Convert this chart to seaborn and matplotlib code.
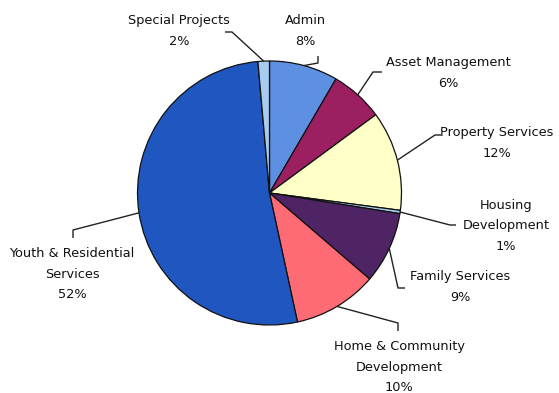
import matplotlib
matplotlib.use("Agg")
import matplotlib.pyplot as plt
import seaborn as sns
import numpy as np

# ---- data ----
categories = ["Admin", "Asset Management", "Property Services", "Housing\nDevelopment",
              "Family Services", "Home & Community\nDevelopment",
              "Youth & Residential\nServices", "Special Projects"]
shares = [8.4, 6.5, 12.2, 0.4, 8.8, 10.3, 52.0, 1.4]
pct_labels = ["8%", "6%", "12%", "1%", "9%", "10%", "52%", "2%"]
colors = ["#5E90E2", "#9C1F62", "#FFFFC8", "#A8CCEE", "#4E2464", "#FF6B74", "#1F56C0", "#A8CCF0"]

# ---- layout (pixel coordinates, y measured from top) ----
W, H = 559, 393
cx, cy, R = 269.5, 193, 132
elbows = [
    [(318, 63), (318, 56)],
    [(373, 72), (382, 72)],
    [(435, 135), (441, 135)],
    [(450, 225), (456, 225)],
    [(398, 288), (405, 288)],
    [(398, 323), (398, 331)],
    [(73, 230), (73, 238)],
    [(232, 32), (225, 32)],
]
text_pos = [(305, 31), (448, 73), (497, 143), (506, 226), (460, 287), (399, 367), (72, 274), (179, 31)]

sns.set_theme(style="white")
plt.rcParams["font.family"] = ["DejaVu Sans"]

fig = plt.figure(figsize=(W / 100, H / 100), dpi=100)
ax = fig.add_axes([0, 0, 1, 1])

wedges, _ = ax.pie(shares, colors=colors, startangle=90, counterclock=False,
                   center=(cx, H - cy), radius=R,
                   wedgeprops=dict(edgecolor="#111111", linewidth=0.9))
ax.set_xlim(0, W)
ax.set_ylim(0, H)
ax.set_aspect("equal")
ax.axis("off")

for w, cat, pct, el, tp in zip(wedges, categories, pct_labels, elbows, text_pos):
    ang = np.deg2rad((w.theta1 + w.theta2) / 2)
    ax_, ay_ = cx + R * np.cos(ang), (H - cy) + R * np.sin(ang)
    xs = [ax_] + [p[0] for p in el]
    ys = [ay_] + [H - p[1] for p in el]
    ax.plot(xs, ys, color="#222222", lw=1.0, solid_capstyle="butt")
    ax.text(tp[0], H - tp[1], cat + "\n" + pct, ha="center", va="center",
            fontsize=9.3, color="#111111", linespacing=1.72)

fig.savefig("out.png", dpi=100, facecolor="white")
